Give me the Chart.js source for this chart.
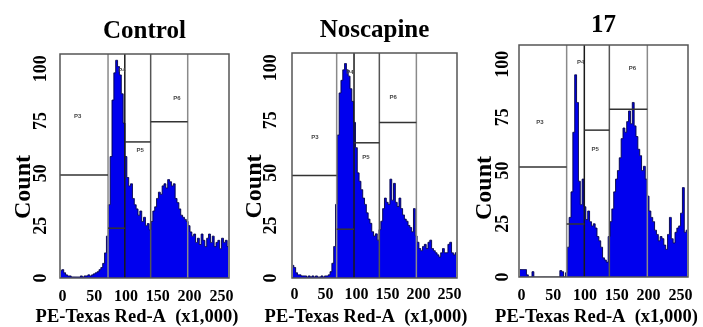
<!DOCTYPE html>
<html><head><meta charset="utf-8">
<script src="https://cdn.jsdelivr.net/npm/chart.js@4.4.1/dist/chart.umd.min.js"></script>
<style>
html,body{margin:0;padding:0;background:#fff;width:703px;height:327px;overflow:hidden;position:relative}
canvas{position:absolute;top:0}
</style></head><body>
<canvas id="c1" style="left:0px" width="274" height="327"></canvas>
<canvas id="c2" style="left:230px" width="272" height="327"></canvas>
<canvas id="c3" style="left:460px" width="273" height="327"></canvas>
<script>
// ---- data ----
const X_MIN = -4, X_MAX = 262, N_BINS = 91;
const xTickValues = [0, 50, 100, 150, 200, 250];
const yTickValues = [0, 25, 50, 75, 100];
const panelTitles = ['Control', 'Noscapine', '17'];
const xAxisTitle = 'PE-Texas Red-A  (x1,000)';
const yAxisTitle = 'Count';
const gateNames = ['P3', 'P4', 'P5', 'P6'];

const controlCounts = [3.5,4,2.5,1.5,1,1,0.5,0.5,0.5,0.5,0.5,1,0.5,1,1,1.5,1,1.5,2,2.5,3,4,5,7,12,20,35,58,85,98,104,101,97,88,74,58,48,44,45,38,35,33,30,32,27,29,25,26,23,27,32,34,38,41,40,44,45,43,47,46,44,45,38,36,33,30,29,28,27,25,22,20,21,17,19,16,21,18,15,19,21,17,20,15,17,18,14,19,17,18,15];
const noscapineCounts = [6,5,2.5,1.5,1.5,1,1,1,0.5,1,0.5,1,0.5,1,0.5,0.5,1,0.5,1,1,1.5,3,7,15,35,68,88,94,99,102,99,96,90,84,74,62,50,46,42,38,35,31,28,26,22,20,21,18,23,27,33,38,36,35,47,37,45,36,34,38,33,30,28,27,25,24,22,33,20,17,14,13,15,16,14,17,18,14,13,12,11,10,12,14,12,12,16,17,12,11,12];
const compound17Counts = [3.5,3.5,3.5,3.5,1,0,0,2.5,0,0,0,0,0,0,0,0,0,0,0,0,0,0,3,2.5,0,2,14,28,40,68,95,82,45,34,46,33,27,31,26,24,25,23,19,17,14,9,8,7,19,26,32,40,46,50,56,65,70,68,73,78,72,82,71,66,60,57,50,52,46,38,31,28,26,22,20,17,19,18,15,13,20,28,18,16,21,23,24,30,42,21,22];

// gate right edges (P3..P6) and gate heights, per sample
const controlGateEdges = [71.6, 98, 138.7, 197];
const noscapineGateEdges = [68, 96, 136.8, 196.5];
const compound17GateEdges = [71, 98.8, 138.2, 198];
const controlGateLevels = [49.2, 23.8, 65, 74.6];
const noscapineGateLevels = [48.7, 23.2, 64.3, 74];
const compound17GateLevels = [51.7, 24.9, 69, 78.8];

// ---- layout / style ----
const SERIF = '"Liberation Serif", "Times New Roman", serif';
const panels = [
  { id: 'c1', title: panelTitles[0], counts: controlCounts, edges: controlGateEdges, levels: controlGateLevels, yMax: 107,
    L: { yAxisW: 60, rightW: 45, tTop: 16.5, tBot: 7.5, xAxisH: 24, yTickPad: 5.5, countPad: 8.9, xTickPad: 8.9, spaces: 7 },
    labelAt: [[24, 77], [93.6, 99], [122, 61], [180, 86]] },
  { id: 'c2', title: panelTitles[1], counts: noscapineCounts, edges: noscapineGateEdges, levels: noscapineGateLevels, yMax: 107,
    L: { yAxisW: 62, rightW: 45, tTop: 15.5, tBot: 7.5, xAxisH: 24, yTickPad: 6.8, countPad: 10.6, xTickPad: 7.4, spaces: 7 },
    labelAt: [[33, 67], [89.5, 98], [115, 57.5], [159, 86]] },
  { id: 'c3', title: panelTitles[2], counts: compound17Counts, edges: compound17GateEdges, levels: compound17GateLevels, yMax: 109,
    L: { yAxisW: 59, rightW: 45, tTop: 10.8, tBot: 4.2, xAxisH: 25, yTickPad: 2.5, countPad: 10.6, xTickPad: 9.4, spaces: 9 },
    labelAt: [[29, 72.5], [93, 101], [115.7, 60], [174.5, 98]] }
];
const vGateColors = ['#8a8a8a', '#1a1a1a', '#555555', '#8a8a8a'];

const framePlugin = {
  id: 'frame',
  afterDatasetsDraw(chart) {
    const {ctx, chartArea: a} = chart;
    ctx.save();
    ctx.strokeStyle = '#555';
    ctx.lineWidth = 1.5;
    ctx.strokeRect(a.left, a.top, a.right - a.left, a.bottom - a.top);
    ctx.restore();
  }
};
const gateLabelPlugin = {
  id: 'gateLabels',
  afterDatasetsDraw(chart, args, opts) {
    const {ctx, scales: {x, y}} = chart;
    ctx.save();
    ctx.font = 'bold 6px "Liberation Sans", Arial, sans-serif';
    ctx.fillStyle = '#444';
    ctx.textAlign = 'center';
    ctx.textBaseline = 'middle';
    opts.names.forEach((n, k) => {
      const p = opts.at[k];
      ctx.fillText(n, x.getPixelForValue(p[0]), y.getPixelForValue(p[1]));
    });
    ctx.restore();
  }
};

const binW = (X_MAX - X_MIN) / N_BINS;
panels.forEach(P => {
  const L = P.L;
  const datasets = [{
    data: P.counts.map((v, i) => ({x: X_MIN + (i + 0.5) * binW, y: v})),
    stepped: 'middle', fill: 'origin',
    backgroundColor: 'rgb(0,0,238)', borderColor: 'rgba(0,0,70,0.9)', borderWidth: 1,
    pointRadius: 0, order: 5
  }];
  P.edges.forEach((e, k) => {
    datasets.push({
      data: [{x: e, y: 0}, {x: e, y: P.yMax}],
      borderColor: vGateColors[k], borderWidth: 1.5, pointRadius: 0, fill: false, order: 1
    });
    const start = k === 0 ? X_MIN : P.edges[k - 1];
    datasets.push({
      data: [{x: start, y: P.levels[k]}, {x: e, y: P.levels[k]}],
      borderColor: '#333', borderWidth: 1.5, pointRadius: 0, fill: false, order: 0
    });
  });
  new Chart(document.getElementById(P.id), {
    type: 'line',
    data: {datasets},
    options: {
      responsive: false, animation: false, events: [],
      layout: {padding: 0},
      plugins: {
        legend: {display: false}, tooltip: {enabled: false},
        title: {display: true, text: P.title, fullSize: false, color: '#000',
          font: {family: SERIF, size: 25, weight: 'bold', lineHeight: 1.2},
          padding: {top: L.tTop, bottom: L.tBot}},
        subtitle: {display: true, position: 'bottom', text: xAxisTitle, color: '#000',
          font: {family: SERIF, size: 18.5, weight: 'bold', lineHeight: 1},
          padding: {top: 5.75, bottom: 0.75}},
        gateLabels: {names: gateNames, at: P.labelAt}
      },
      scales: {
        x: {type: 'linear', min: X_MIN, max: X_MAX,
          grid: {display: false, drawTicks: false}, border: {display: false},
          ticks: {color: '#000', font: {family: SERIF, size: 16, weight: 'bold'}, padding: L.xTickPad,
            maxRotation: 0, minRotation: 0, autoSkip: false, includeBounds: false},
          afterBuildTicks: s => { s.ticks = xTickValues.map(v => ({value: v})); },
          afterFit: s => { s.height = L.xAxisH; }},
        y: {type: 'linear', min: 0, max: P.yMax,
          grid: {display: false, drawTicks: false}, border: {display: false},
          ticks: {color: '#000', font: {family: SERIF, size: 18, weight: 'bold'}, padding: L.yTickPad,
            minRotation: 90, maxRotation: 90, crossAlign: 'center', autoSkip: false, includeBounds: false},
          afterBuildTicks: s => { s.ticks = yTickValues.map(v => ({value: v})); },
          title: {display: true, text: yAxisTitle + ' '.repeat(L.spaces), color: '#000',
            font: {family: SERIF, size: 24, weight: 'bold', lineHeight: 1.2},
            padding: {top: L.countPad, bottom: 0}},
          afterFit: s => { s.width = L.yAxisW; }},
        yR: {type: 'linear', position: 'right', display: true,
          grid: {display: false}, border: {display: false}, ticks: {display: false},
          afterFit: s => { s.width = L.rightW; }}
      }
    },
    plugins: [framePlugin, gateLabelPlugin]
  });
});
</script>
</body></html>
